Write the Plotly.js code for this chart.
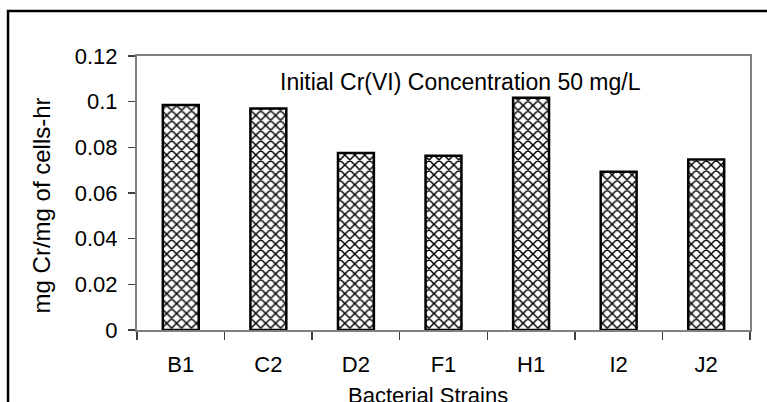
<!DOCTYPE html>
<html>
<head>
<meta charset="utf-8">
<script src="https://cdn.plot.ly/plotly-3.0.1.min.js"></script>
<style>html,body{margin:0;padding:0;background:#fff;}#chart{width:767px;height:402px;}</style>
</head>
<body>
<div id="chart"></div>
<script>
const strains = ["B1", "C2", "D2", "F1", "H1", "I2", "J2"];
const uptakeRate = [0.0985, 0.097, 0.0775, 0.0763, 0.1017, 0.0693, 0.0747];
const yTickValues = [0, 0.02, 0.04, 0.06, 0.08, 0.1, 0.12];
const yTickLabels = ["0", "0.02", "0.04", "0.06", "0.08", "0.1", "0.12"];
const noteText = "Initial Cr(VI) Concentration 50 mg/L";
const xTitle = "Bacterial Strains";
const yTitle = "mg Cr/mg of cells-hr";

const font = "Liberation Sans, Arial, sans-serif";

const trace = {
  type: "bar",
  x: strains,
  y: uptakeRate,
  marker: {
    color: "#ffffff",
    line: {color: "#000000", width: 2.5},
    pattern: {shape: "x", fgcolor: "#000000", bgcolor: "#ffffff", size: 7, solidity: 0.38}
  },
  hoverinfo: "x+y"
};

const layout = {
  width: 767,
  height: 402,
  margin: {l: 137, r: 17, t: 56, b: 72},
  paper_bgcolor: "#ffffff",
  plot_bgcolor: "#ffffff",
  bargap: 0.59,
  showlegend: false,
  font: {family: font, size: 22, color: "#000000"},
  xaxis: {
    type: "category",
    showgrid: false,
    showline: true,
    linecolor: "#808080",
    linewidth: 2,
    mirror: true,
    ticks: "outside",
    tickson: "boundaries",
    ticklen: 8,
    tickcolor: "#404040",
    tickwidth: 1.5,
    ticklabelstandoff: 14,
    tickfont: {family: font, size: 22, color: "#000"}
  },
  yaxis: {
    range: [0, 0.12],
    tickvals: yTickValues,
    ticktext: yTickLabels,
    showgrid: false,
    zeroline: false,
    showline: true,
    linecolor: "#808080",
    linewidth: 2,
    mirror: true,
    ticks: "outside",
    ticklen: 7,
    tickcolor: "#404040",
    tickwidth: 1.5,
    ticklabelstandoff: 6,
    tickfont: {family: font, size: 22, color: "#000"}
  },
  annotations: [
    {
      text: noteText,
      xref: "paper", yref: "paper",
      x: 0.5285, y: 0.905,
      xanchor: "center", yanchor: "middle",
      showarrow: false,
      font: {family: font, size: 23, color: "#000"}
    },
    {
      text: xTitle,
      xref: "paper", yref: "paper",
      x: 0.474, y: -0.186,
      xanchor: "center", yanchor: "top",
      showarrow: false,
      font: {family: font, size: 22, color: "#000"}
    },
    {
      text: yTitle,
      xref: "paper", yref: "paper",
      x: -0.156, y: 0.456,
      xanchor: "center", yanchor: "middle",
      textangle: -90,
      showarrow: false,
      font: {family: font, size: 24, color: "#000"}
    }
  ],
  shapes: [{
    type: "rect",
    xref: "paper", yref: "paper",
    x0: -0.2104, x1: 1.05, y0: -0.4, y1: 1.164,
    line: {color: "#000000", width: 2.5},
    fillcolor: "rgba(0,0,0,0)",
    layer: "below"
  }]
};

Plotly.newPlot("chart", [trace], layout, {displayModeBar: false, staticPlot: true});
</script>
</body>
</html>
